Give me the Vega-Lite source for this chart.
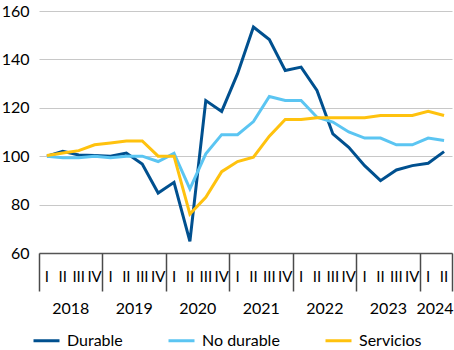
{
  "$schema": "https://vega.github.io/schema/vega-lite/v6.json",
  "width": 413,
  "height": 242,
  "autosize": {"type": "none"},
  "padding": {"left": 39, "top": 11, "right": 2, "bottom": 97},
  "config": {
    "font": "Lato",
    "view": {"stroke": null},
    "axis": {"labelColor": "#000", "labelFont": "Lato", "labelFontSize": 16}
  },
  "data": {
    "values": [
      {"period": "2018 I", "Durable": 100, "No durable": 100, "Servicios": 100.3},
      {"period": "2018 II", "Durable": 102, "No durable": 99.4, "Servicios": 101.3},
      {"period": "2018 III", "Durable": 100.5, "No durable": 99.4, "Servicios": 102.3},
      {"period": "2018 IV", "Durable": 100.3, "No durable": 100, "Servicios": 104.7},
      {"period": "2019 I", "Durable": 100, "No durable": 99.4, "Servicios": 105.5},
      {"period": "2019 II", "Durable": 101.3, "No durable": 100, "Servicios": 106.3},
      {"period": "2019 III", "Durable": 96.8, "No durable": 100, "Servicios": 106.3},
      {"period": "2019 IV", "Durable": 84.8, "No durable": 97.8, "Servicios": 100},
      {"period": "2020 I", "Durable": 89.2, "No durable": 101.2, "Servicios": 100},
      {"period": "2020 II", "Durable": 64.8, "No durable": 86.5, "Servicios": 76.1},
      {"period": "2020 III", "Durable": 123, "No durable": 101, "Servicios": 83},
      {"period": "2020 IV", "Durable": 118.5, "No durable": 108.9, "Servicios": 93.6},
      {"period": "2021 I", "Durable": 134.1, "No durable": 108.9, "Servicios": 97.8},
      {"period": "2021 II", "Durable": 153.4, "No durable": 114.3, "Servicios": 99.6},
      {"period": "2021 III", "Durable": 148.2, "No durable": 124.7, "Servicios": 108.3},
      {"period": "2021 IV", "Durable": 135.4, "No durable": 123, "Servicios": 115.2},
      {"period": "2022 I", "Durable": 136.8, "No durable": 123, "Servicios": 115.2},
      {"period": "2022 II", "Durable": 127.2, "No durable": 116.1, "Servicios": 115.9},
      {"period": "2022 III", "Durable": 109.2, "No durable": 114.1, "Servicios": 115.9},
      {"period": "2022 IV", "Durable": 103.7, "No durable": 110, "Servicios": 115.9},
      {"period": "2023 I", "Durable": 96.1, "No durable": 107.5, "Servicios": 115.9},
      {"period": "2023 II", "Durable": 89.9, "No durable": 107.5, "Servicios": 116.8},
      {"period": "2023 III", "Durable": 94.3, "No durable": 104.7, "Servicios": 116.8},
      {"period": "2023 IV", "Durable": 96.1, "No durable": 104.7, "Servicios": 116.8},
      {"period": "2024 I", "Durable": 97.1, "No durable": 107.5, "Servicios": 118.6},
      {"period": "2024 II", "Durable": 101.9, "No durable": 106.5, "Servicios": 116.8}
    ]
  },
  "layer": [
    {
      "transform": [{"fold": ["Durable", "No durable", "Servicios"], "as": ["serie", "valor"]}],
      "mark": {"type": "line", "strokeWidth": 3, "strokeJoin": "miter"},
      "encoding": {
        "x": {
          "field": "period", "type": "ordinal", "sort": null,
          "scale": {"type": "band", "paddingInner": 0, "paddingOuter": 0},
          "axis": {
            "orient": "bottom", "title": null, "bandPosition": 0.5, "ticks": false,
            "domain": true, "domainColor": "#555", "domainWidth": 1.5,
            "labelExpr": "split(datum.value, ' ')[1]", "labelAngle": 0, "labelFontSize": 15,
            "labelPadding": 16, "labelOverlap": false, "labelBound": false, "labelFlush": false,
            "grid": false
          }
        },
        "y": {
          "field": "valor", "type": "quantitative",
          "scale": {"domain": [60, 160], "nice": false, "zero": false},
          "axis": {
            "title": null, "values": [60, 80, 100, 120, 140, 160], "ticks": false, "domain": false,
            "labelPadding": 10, "gridColor": "#c8c8c8", "gridWidth": 1
          }
        },
        "color": {
          "field": "serie", "type": "nominal",
          "scale": {"domain": ["Durable", "No durable", "Servicios"], "range": ["#00508f", "#5bc5f2", "#ffc20e"]},
          "legend": {
            "title": null, "orient": "none", "direction": "horizontal", "legendX": -7, "legendY": 315,
            "symbolType": "stroke", "symbolStrokeWidth": 3, "symbolSize": 676,
            "labelFontSize": 16, "labelColor": "#000", "labelOffset": 6, "columnPadding": 39, "padding": 0
          }
        }
      }
    },
    {
      "mark": {"type": "point", "opacity": 0},
      "encoding": {
        "x": {
          "field": "period", "type": "ordinal", "sort": null,
          "axis": {
            "orient": "bottom", "title": null, "bandPosition": 0, "ticks": true, "tickSize": 38,
            "tickColor": "#4a4a4a", "tickWidth": 1.5,
            "tickOpacity": {"condition": {"test": "split(datum.value, ' ')[1] == 'I'", "value": 1}, "value": 0},
            "domain": false, "grid": false, "labelAngle": 0, "labelPadding": 9,
            "labelOffset": {"condition": {"test": "datum.value == '2024 II'", "value": -9}, "value": -8},
            "labelExpr": "(split(datum.value, ' ')[1] == 'III' || datum.value == '2024 II') ? split(datum.value, ' ')[0] : ''",
            "labelOverlap": false, "labelBound": false, "labelFlush": false
          }
        }
      }
    },
    {
      "mark": {"type": "point", "opacity": 0},
      "encoding": {
        "x": {
          "field": "period", "type": "ordinal", "sort": null,
          "axis": {
            "orient": "bottom", "title": null, "bandPosition": 1, "ticks": true, "tickSize": 38,
            "tickColor": "#4a4a4a", "tickWidth": 1.5,
            "tickOpacity": {"condition": {"test": "datum.value == '2024 II'", "value": 1}, "value": 0},
            "domain": false, "grid": false, "labels": false
          }
        }
      }
    }
  ],
  "resolve": {"axis": {"x": "independent"}}
}
